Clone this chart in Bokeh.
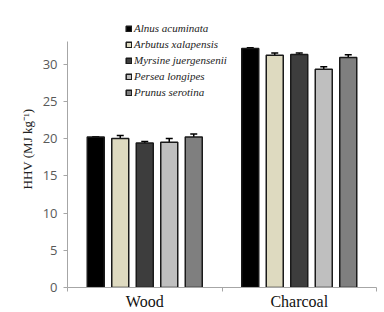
from bokeh.plotting import figure
from bokeh.models import Range1d, FixedTicker, Legend, LegendItem, ColumnDataSource, Whisker, Title
from bokeh.embed import file_html
from bokeh.resources import INLINE

groups = ["Wood", "Charcoal"]
species = ["Alnus acuminata", "Arbutus xalapensis", "Myrsine juergensenii", "Persea longipes", "Prunus serotina"]
colors = ["#000000", "#dedac0", "#3d3d3d", "#bfbfbf", "#7f7f7f"]
wood = [20.2, 20.0, 19.4, 19.5, 20.2]
wood_err = [0.05, 0.4, 0.2, 0.5, 0.4]
charcoal = [32.1, 31.2, 31.3, 29.3, 30.9]
charcoal_err = [0.1, 0.3, 0.2, 0.35, 0.35]
yticks = [0, 5, 10, 15, 20, 25, 30]
ylabel = "HHV (MJ kg\u207b\u00b9)"

step = 0.1586
bw = 0.11

p = figure(width=384, height=312, output_backend="svg", toolbar_location=None,
           x_range=Range1d(0, 2.0), y_range=Range1d(0, 37.2),
           min_border_left=67, min_border_right=8, min_border_top=10, min_border_bottom=20)
p.outline_line_color = None
p.grid.grid_line_color = None
p.background_fill_color = "white"

items = []
for i, sp in enumerate(species):
    xs = [g + 0.5 + (i - 2) * step for g in range(len(groups))]
    tops = [wood[i], charcoal[i]]
    errs = [wood_err[i], charcoal_err[i]]
    src = ColumnDataSource(dict(x=xs, top=tops,
                                lo=[t - e for t, e in zip(tops, errs)],
                                hi=[t + e for t, e in zip(tops, errs)]))
    r = p.vbar(x="x", top="top", width=bw, source=src, fill_color=colors[i],
               line_color="#1a1a1a", line_width=1.5)
    w = Whisker(base="x", lower="lo", upper="hi", source=src, line_color="black", line_width=1.5)
    w.upper_head.size = 7
    w.lower_head.size = 7
    w.upper_head.line_width = 1.5
    w.lower_head.line_width = 1.5
    p.add_layout(w)
    items.append(LegendItem(label=sp, renderers=[r]))

legend = Legend(items=items, location=(58, 188), padding=0, margin=0,
                border_line_color=None, background_fill_alpha=0,
                glyph_width=7, glyph_height=7, label_height=14, spacing=2,
                label_standoff=2, label_text_font="Liberation Serif",
                label_text_font_style="italic", label_text_font_size="11px",
                label_text_color="#222222")
p.add_layout(legend)

p.yaxis.ticker = FixedTicker(ticks=yticks)
p.yaxis.bounds = (0, 33)
p.yaxis.axis_line_color = "#a6a6a6"
p.yaxis.major_tick_line_color = "#a6a6a6"
p.yaxis.major_tick_out = 4
p.yaxis.major_tick_in = 0
p.yaxis.minor_tick_line_color = None
p.yaxis.major_label_text_font = "Open Sans"
p.yaxis.major_label_text_font_size = "13px"
p.yaxis.major_label_text_color = "#595959"
p.yaxis.major_label_standoff = 6

ytitle = Title(text=ylabel, align="center", text_font="Liberation Serif",
               text_font_style="normal", text_font_size="13px", text_color="#222222",
               standoff=10, offset=-9)
p.add_layout(ytitle, "left")

p.xaxis.ticker = FixedTicker(ticks=[0.5, 1.5], minor_ticks=[0, 1, 2])
p.xaxis.major_label_overrides = {0.5: groups[0], 1.5: groups[1]}
p.xaxis.axis_line_color = "#a6a6a6"
p.xaxis.major_tick_line_color = None
p.xaxis.major_tick_out = 0
p.xaxis.major_tick_in = 0
p.xaxis.minor_tick_line_color = "#a6a6a6"
p.xaxis.minor_tick_out = 4
p.xaxis.minor_tick_in = 0
p.xaxis.major_label_text_font = "Liberation Serif"
p.xaxis.major_label_text_font_size = "16px"
p.xaxis.major_label_text_color = "#111111"
p.xaxis.major_label_standoff = 1

open("out.html", "w").write(file_html(p, INLINE))
